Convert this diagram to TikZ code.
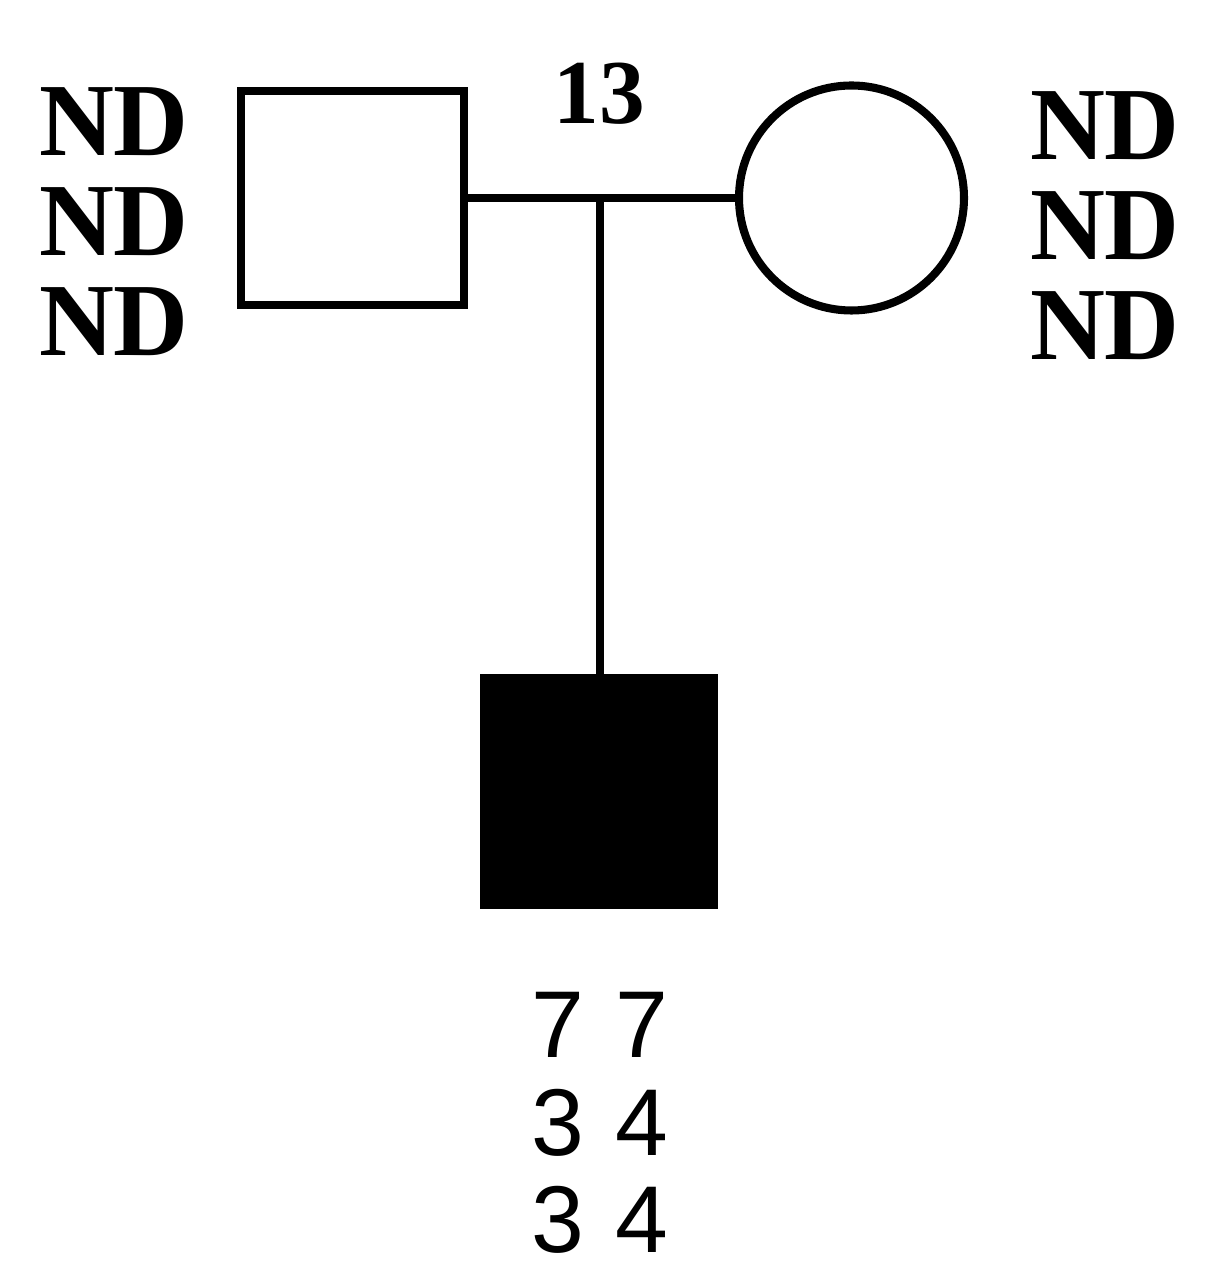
\documentclass[tikz,border=0pt]{standalone}
\usepackage{fontspec}
\setmainfont{Liberation Serif}
\newfontfamily\digitfont{Liberation Sans}
\begin{document}
\begin{tikzpicture}[line width=2.3pt,
	male/.style={draw,rectangle,minimum width=2.23cm,minimum height=2.14cm,inner sep=0pt},
	female/.style={draw,circle,minimum size=2.25cm,inner sep=0pt},
	genotype/.style={align=center,inner sep=0pt,font=\bfseries\fontsize{29.5}{28.5}\selectfont},
	alleles/.style={align=center,inner sep=0pt,font=\digitfont\fontsize{27}{27.8}\selectfont}]
	\useasboundingbox(0,0)rectangle(12.07,12.70);
	\node[male](father)at(3.525,10.72){};
	\node[female](mother)at(8.515,10.72){};
	\node[male,fill=black,minimum width=2.3cm,minimum height=2.26cm](child)at(5.99,4.785){};
	\coordinate(mid)at(6.0,10.72);
	\draw(father.east)--(mother.west);
	\draw(mid)--(mid|-child.north);
	\node[font=\bfseries\fontsize{26}{26}\selectfont](pair)at(5.99,11.76){13};
	\node[genotype](fatherND)at(1.14,10.48){ND\\ND\\ND};
	\node[genotype](motherND)at(11.05,10.44){ND\\ND\\ND};
	\node[alleles](childAl)at(6.0,1.47){7\,\,7\\3\,\,4\\3\,\,4};
\end{tikzpicture}
\end{document}
